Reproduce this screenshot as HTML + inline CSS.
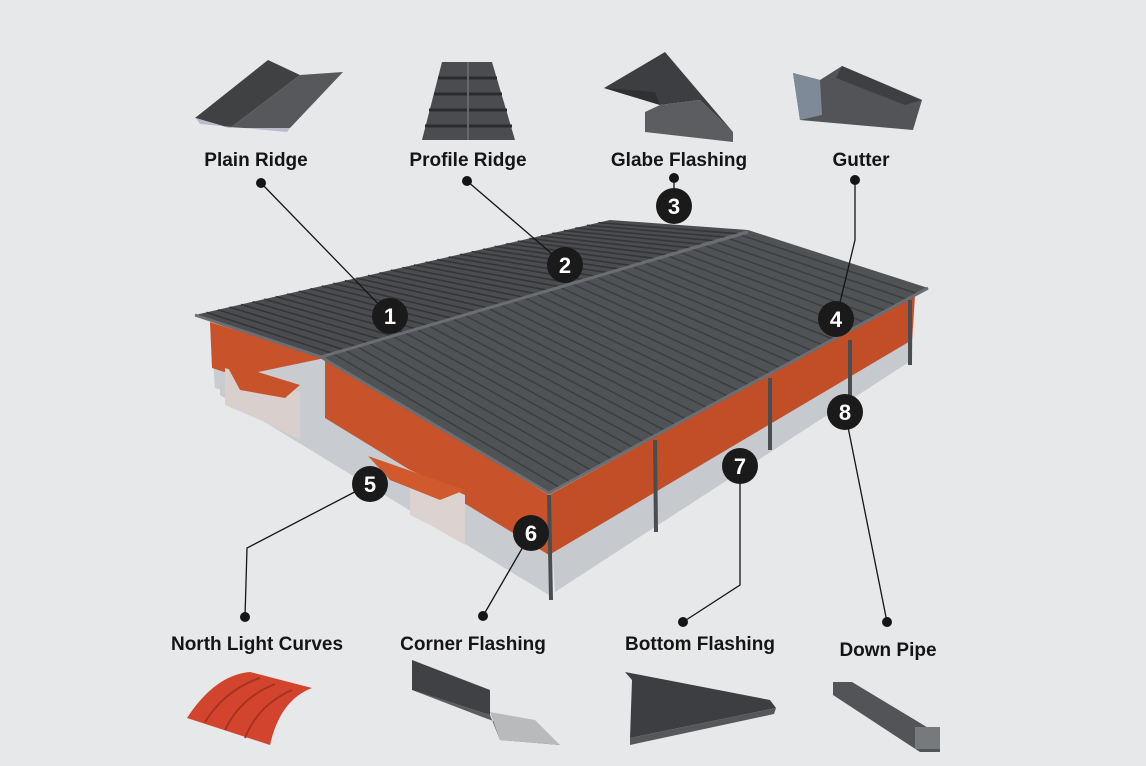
<!DOCTYPE html>
<html><head><meta charset="utf-8"><style>
html,body{margin:0;padding:0;background:#e7e8ea;}
svg{display:block}
text{font-family:"Liberation Sans",Arial,sans-serif;}
</style></head><body>
<svg id="s" width="1146" height="766" viewBox="0 0 1146 766" xmlns="http://www.w3.org/2000/svg">
<rect width="1146" height="766" fill="#e7e8ea"/>
<!-- top icons -->
<polygon points="195,118 268,60 300,75 230,128" fill="#3f4143"/>
<polygon points="230,128 300,75 343,72 290,128" fill="#56585b"/>
<polygon points="196,118 230,128 290,128 287,132 200,124" fill="#b9b9d0"/>
<polygon points="442,62 492,62 515,140 422,140" fill="#4a4c4f"/>
<g stroke="#2a2b2d" stroke-width="3"><line x1="438" y1="78" x2="497" y2="78"/><line x1="434" y1="94" x2="502" y2="94"/><line x1="429" y1="110" x2="507" y2="110"/><line x1="425" y1="126" x2="512" y2="126"/></g>
<line x1="468" y1="62" x2="468" y2="140" stroke="#666" stroke-width="2"/>
<polygon points="604,88 665,52 733,132 700,100 660,105" fill="#3c3e41"/>
<polygon points="660,105 700,100 733,132 733,142 645,132 645,112" fill="#5b5d60"/>
<polygon points="604,88 660,105 655,92" fill="#2e3032"/>
<polygon points="793,73 820,80 842,66 922,100 913,130 800,120" fill="#525457"/>
<polygon points="793,73 820,80 822,115 800,120" fill="#7e8a98"/>
<polygon points="842,66 922,100 905,105 836,78" fill="#3d3f42"/>
<!-- labels -->
<g font-weight="bold" font-size="19" fill="#151515" text-anchor="middle">
<text x="256" y="166">Plain Ridge</text>
<text x="468" y="166">Profile Ridge</text>
<text x="679" y="166">Glabe Flashing</text>
<text x="861" y="166">Gutter</text>
<text x="257" y="650">North Light Curves</text>
<text x="473" y="650">Corner Flashing</text>
<text x="700" y="650">Bottom Flashing</text>
<text x="888" y="656">Down Pipe</text>
</g>
<!-- building -->
<polygon points="210,322 325,358 325,420 215,388" fill="#c9ccd0"/>
<polygon points="210,322 325,358 325,405 212,368" fill="#c8532a"/>
<polygon points="325,358 549,495 549,595 220,395 220,380" fill="#c8cbcf"/>
<polygon points="325,358 549,495 549,555 325,418" fill="#c8532a"/>
<polygon points="549,495 915,295 912,360 555,592" fill="#c6c9cd"/>
<polygon points="549,495 915,295 912,340 549,555" fill="#c24e27"/>
<polygon points="225,368 300,392 300,440 260,420 225,405" fill="#d9d0ce"/>
<polygon points="225,362 300,385 285,398 240,390" fill="#c8532a"/>
<polygon points="410,470 465,495 465,545 430,525 410,515" fill="#dcd2d0"/>
<polygon points="368,456 465,490 440,500 390,480" fill="#d05a2e"/>
<polygon points="195,315 610,220 748,230 321,357" fill="#4a4c4f"/>
<polygon points="321,357 748,230 928,288 549,493" fill="#505356"/>
<g id="ribs" stroke="#3c3e41" stroke-width="1.6"></g>
<line x1="321" y1="357" x2="748" y2="232" stroke="#6a6d71" stroke-width="3"/>
<polyline points="195,315 321,357 549,493 928,288" fill="none" stroke="#6b6e72" stroke-width="3"/>
<g stroke="#4a4d50" stroke-width="4" fill="none">
<line x1="549" y1="495" x2="551" y2="600"/>
<line x1="655" y1="440" x2="656" y2="532"/>
<line x1="770" y1="378" x2="770" y2="450"/>
<line x1="850" y1="340" x2="850" y2="415"/>
<line x1="910" y1="300" x2="910" y2="365"/>
</g>
<g stroke="#151515" stroke-width="1.3" fill="none">
<line x1="261" y1="183" x2="390" y2="316"/>
<line x1="467" y1="181" x2="565" y2="265"/>
<line x1="674" y1="178" x2="674" y2="206"/>
<polyline points="855,180 855,240 836,319"/>
<polyline points="370,484 247,548 245,617"/>
<line x1="531" y1="533" x2="483" y2="616"/>
<polyline points="740,466 740,585 683,622"/>
<line x1="845" y1="412" x2="887" y2="622"/>
</g>
<g fill="#151515">
<circle cx="261" cy="183" r="5"/><circle cx="467" cy="181" r="5"/><circle cx="674" cy="178" r="5"/><circle cx="855" cy="180" r="5"/>
<circle cx="245" cy="617" r="5"/><circle cx="483" cy="616" r="5"/><circle cx="683" cy="622" r="5"/><circle cx="887" cy="622" r="5"/>
</g>
<g fill="#1a1a1a">
<circle cx="390" cy="316" r="18"/><circle cx="565" cy="265" r="18"/><circle cx="674" cy="206" r="18"/><circle cx="836" cy="319" r="18"/>
<circle cx="370" cy="484" r="18"/><circle cx="531" cy="533" r="18"/><circle cx="740" cy="466" r="18"/><circle cx="845" cy="412" r="18"/>
</g>
<g fill="#fff" font-weight="bold" font-size="22" text-anchor="middle">
<text x="390" y="324">1</text><text x="565" y="273">2</text><text x="674" y="214">3</text><text x="836" y="327">4</text>
<text x="370" y="492">5</text><text x="531" y="541">6</text><text x="740" y="474">7</text><text x="845" y="420">8</text>
</g>
<path d="M187,718 Q215,675 250,672 L312,688 Q280,700 270,745 Z" fill="#d2442e"/>
<g stroke="#a8321f" stroke-width="2" fill="none">
<path d="M205,722 Q225,690 260,678"/><path d="M225,730 Q240,698 275,684"/><path d="M245,738 Q258,705 292,690"/>
</g>
<polygon points="412,660 490,690 490,715 412,690" fill="#3f4144"/>
<polygon points="412,690 490,715 500,740 560,745 485,718" fill="#5a5c5f"/>
<polygon points="500,740 560,745 535,720 490,712" fill="#b9babc"/>
<polygon points="625,672 770,700 776,708 630,738 632,680" fill="#3c3e41"/>
<polygon points="630,738 776,708 774,714 630,745" fill="#55575a"/>
<polygon points="833,682 852,682 940,735 940,752 920,752 833,695" fill="#525457"/>
<rect x="915" y="727" width="25" height="22" fill="#777a7d"/>
</svg>
<script>
(function(){
var g=document.getElementById('ribs'),ns='http://www.w3.org/2000/svg';
function L(a,b,c,d,col){var l=document.createElementNS(ns,'line');l.setAttribute('x1',a);l.setAttribute('y1',b);l.setAttribute('x2',c);l.setAttribute('y2',d);if(col)l.setAttribute('stroke',col);g.appendChild(l);}
var A=[321,357],B=[748,230],C=[928,288],D=[549,493],E=[195,315],F=[610,220];
for(var i=1;i<36;i++){var t=i/36;
L(A[0]+t*(B[0]-A[0]),A[1]+t*(B[1]-A[1]),D[0]+t*(C[0]-D[0]),D[1]+t*(C[1]-D[1]));
L(E[0]+t*(F[0]-E[0]),E[1]+t*(F[1]-E[1]),A[0]+t*(B[0]-A[0]),A[1]+t*(B[1]-A[1]),'#333538');}
})();
</script>
</body></html>
